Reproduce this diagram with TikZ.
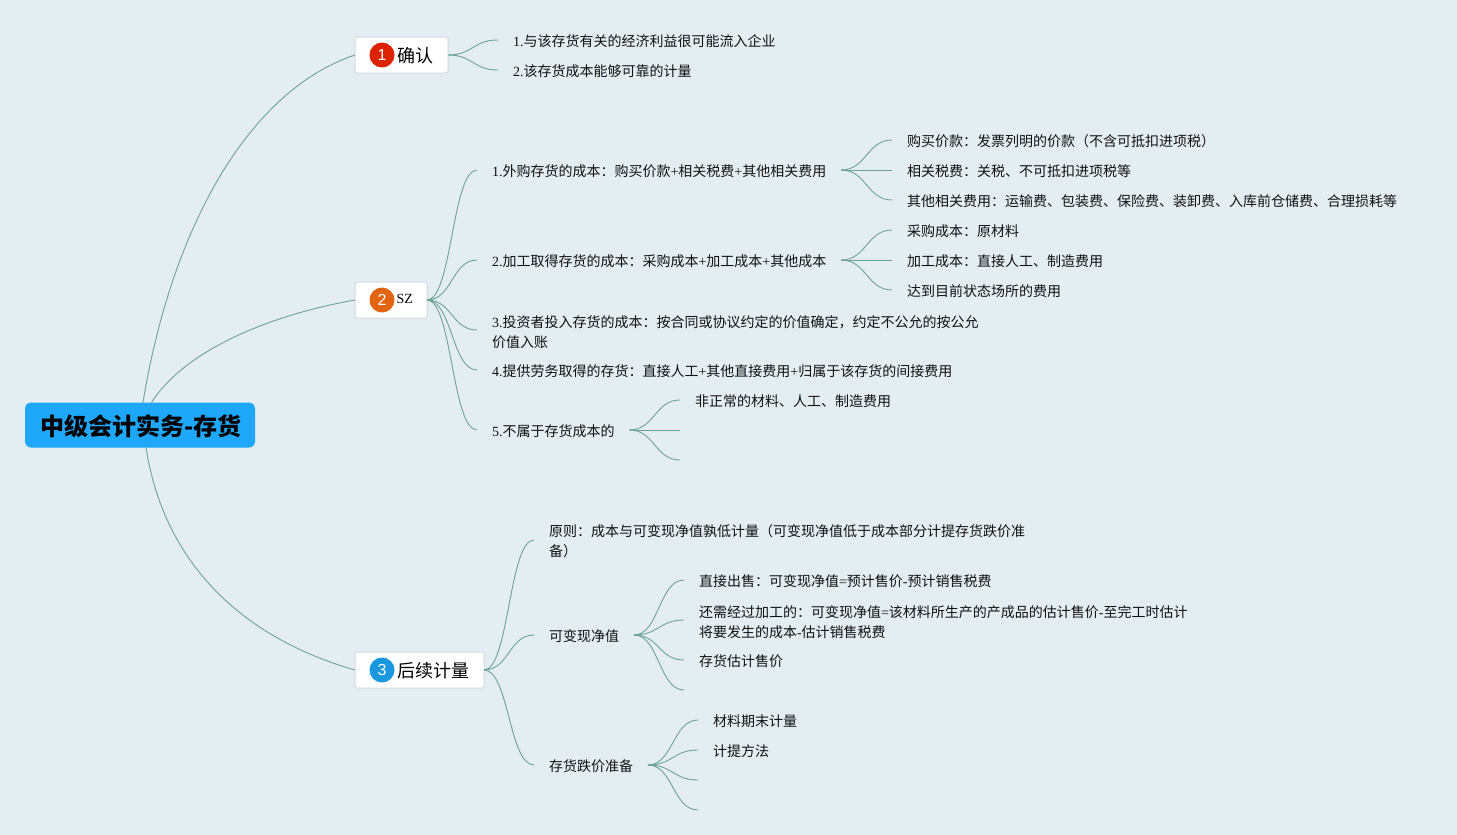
\documentclass[tikz,border=0pt]{standalone}
\usepackage{fontspec}
\setmainfont{Liberation Serif}
\newfontfamily\cjk{Noto Sans CJK SC}
\newfontfamily\latinsans{Liberation Sans}
\newcommand\zh[1]{{\cjk #1}}
\newcommand\lst{\rule[-1pt]{0pt}{16pt}}
\newcommand\tallst{\rule{0pt}{15.3pt}}
\definecolor{bgc}{HTML}{E4EDF2}
\definecolor{linec}{HTML}{6DA397}
\definecolor{rootc}{HTML}{1FA8FA}
\definecolor{boxb}{HTML}{D5DADF}
\definecolor{inkc}{HTML}{111111}
\tikzset{
  lbl/.style={anchor=west,align=left,inner xsep=15pt,inner ysep=0pt,outer sep=0pt,text=inkc,
    font=\fontsize{14}{20}\selectfont,execute at begin node=\lst},
  mainbox/.style={anchor=west,draw=boxb,line width=1pt,fill=white,rounded corners=2pt,
    minimum height=36pt,inner sep=0pt,outer sep=0pt},
  badge/.style={circle,minimum size=25pt,inner sep=0pt,text=white,
    font=\latinsans\fontsize{16}{16}\selectfont},
  boxtxt/.style={anchor=west,inner sep=0pt,text=black},
  conn/.style={draw=linec,line width=0.9pt},
  br/.style={out=0,in=180,distance=25pt}
}
\begin{document}
\begin{tikzpicture}[x=1pt,y=-1pt]
\useasboundingbox (0,0) rectangle (1457,835);
\fill[bgc] (0,0) rectangle (1457,835);

% root
\node[fill=rootc,rounded corners=6pt,minimum width=230pt,minimum height=45pt,inner sep=0pt,outer sep=0pt,
  font=\fontsize{24}{24}\selectfont\bfseries] (root) at (140,425) {\hspace*{2pt}\raisebox{-10.5pt}[0pt][0pt]{\zh{中级会计实务-存货}}};

% main boxes
\node[mainbox,minimum width=93pt] (m1) at (355,55) {};
\node[mainbox,minimum width=72pt] (m2) at (355,300) {};
\node[mainbox,minimum width=129pt] (m3) at (355,670) {};
\node[badge,fill={rgb,255:red,220;green,34;blue,0}] (b1) at (382,55) {1};
\node[badge,fill={rgb,255:red,226;green,100;blue,16}] (b2) at (382,300) {2};
\node[badge,fill={rgb,255:red,26;green,152;blue,222}] (b3) at (382,670) {3};
\node[boxtxt,font=\fontsize{18}{18}\selectfont] (t1) at (397,56) {\zh{确认}};
\node[boxtxt,font=\fontsize{14}{14}\selectfont] (t2) at (396.5,299) {SZ};
\node[boxtxt,font=\fontsize{18}{18}\selectfont] (t3) at (397,671) {\zh{后续计量}};

% branch 1
\node[lbl] (a1) at (498,40) {1.\zh{与该存货有关的经济利益很可能流入企业}};
\node[lbl] (a2) at (498,70) {2.\zh{该存货成本能够可靠的计量}};

% branch 2
\node[lbl] (c1) at (477,170) {1.\zh{外购存货的成本：购买价款}+\zh{相关税费}+\zh{其他相关费用}};
\node[lbl] (c2) at (477,260) {2.\zh{加工取得存货的成本：采购成本}+\zh{加工成本}+\zh{其他成本}};
\node[lbl] (c3) at (477,330) {\tallst 3.\zh{投资者投入存货的成本：按合同或协议约定的价值确定，约定不公允的按公允}\\\lst\zh{价值入账}};
\node[lbl] (c4) at (477,370) {4.\zh{提供劳务取得的存货：直接人工}+\zh{其他直接费用}+\zh{归属于该存货的间接费用}};
\node[lbl] (c5) at (477,430) {5.\zh{不属于存货成本的}};

\node[lbl] (d1) at (892,140) {\zh{购买价款：发票列明的价款（不含可抵扣进项税）}};
\node[lbl] (d2) at (892,170) {\zh{相关税费：关税、不可抵扣进项税等}};
\node[lbl] (d3) at (892,200) {\zh{其他相关费用：运输费、包装费、保险费、装卸费、入库前仓储费、合理损耗等}};
\node[lbl] (e1) at (892,230) {\zh{采购成本：原材料}};
\node[lbl] (e2) at (892,260) {\zh{加工成本：直接人工、制造费用}};
\node[lbl] (e3) at (892,290) {\zh{达到目前状态场所的费用}};
\node[lbl] (f1) at (680,400) {\zh{非正常的材料、人工、制造费用}};
\coordinate (f2) at (680,430);
\coordinate (f3) at (680,460);

% branch 3
\node[lbl] (g1) at (534,540) {\tallst\zh{原则：成本与可变现净值孰低计量（可变现净值低于成本部分计提存货跌价准}\\\lst\zh{备）}};
\node[lbl] (g2) at (534,635) {\zh{可变现净值}};
\node[lbl] (g3) at (534,765) {\zh{存货跌价准备}};
\node[lbl] (h1) at (684,580) {\zh{直接出售：可变现净值}=\zh{预计售价}-\zh{预计销售税费}};
\node[lbl] (h2) at (684,620) {\tallst\zh{还需经过加工的：可变现净值}=\zh{该材料所生产的产成品的估计售价}-\zh{至完工时估计}\\\lst\zh{将要发生的成本}-\zh{估计销售税费}};
\node[lbl] (h3) at (684,660) {\zh{存货估计售价}};
\coordinate (h4) at (684,690);
\node[lbl] (i1) at (698,720) {\zh{材料期末计量}};
\node[lbl] (i2) at (698,750) {\zh{计提方法}};
\coordinate (i3) at (698,780);
\coordinate (i4) at (698,810);

% root connectors
\draw[conn] ([xshift=3pt]root.north) .. controls (172,225) and (250,90) .. (m1.west);
\draw[conn] ([xshift=11.5pt]root.north) .. controls (185,350) and (270,315) .. (m2.west);
\draw[conn] ([xshift=6pt]root.south) .. controls (165,570) and (250,640) .. (m3.west);

% level connectors
\foreach \p/\c in {m1/a1,m1/a2,m2/c1,m2/c2,m2/c3,m2/c4,m2/c5,m3/g1,m3/g2,m3/g3,
  c1/d1,c1/d2,c1/d3,c2/e1,c2/e2,c2/e3,c5/f1,g2/h1,g2/h2,g2/h3,g3/i1,g3/i2}
  \draw[conn] (\p.east) to[br] (\c.west);
\foreach \p/\c in {c5/f2,c5/f3,g2/h4,g3/i3,g3/i4}
  \draw[conn] (\p.east) to[br] (\c);
\end{tikzpicture}
\end{document}
